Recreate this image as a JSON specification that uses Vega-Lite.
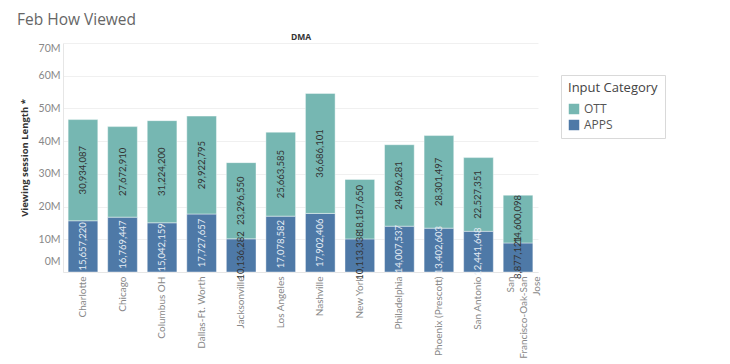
{
  "$schema": "https://vega.github.io/schema/vega-lite/v6.json",
  "autosize": {"type": "none"},
  "width": 475,
  "height": 229,
  "padding": {"left": 63, "top": 43, "right": 192, "bottom": 92},
  "background": "#ffffff",
  "title": {
    "text": "Feb How Viewed",
    "anchor": "start",
    "frame": "group",
    "dx": -46,
    "offset": 4,
    "fontSize": 15.5,
    "fontWeight": "normal",
    "font": "Open Sans",
    "color": "#666666"
  },
  "data": {
    "values": [
      {"DMA": "Charlotte", "category": "APPS", "value": 15657220},
      {"DMA": "Charlotte", "category": "OTT", "value": 30934087},
      {"DMA": "Chicago", "category": "APPS", "value": 16769447},
      {"DMA": "Chicago", "category": "OTT", "value": 27672910},
      {"DMA": "Columbus OH", "category": "APPS", "value": 15042159},
      {"DMA": "Columbus OH", "category": "OTT", "value": 31224200},
      {"DMA": "Dallas-Ft. Worth", "category": "APPS", "value": 17727657},
      {"DMA": "Dallas-Ft. Worth", "category": "OTT", "value": 29922795},
      {"DMA": "Jacksonville", "category": "APPS", "value": 10136282},
      {"DMA": "Jacksonville", "category": "OTT", "value": 23296550},
      {"DMA": "Los Angeles", "category": "APPS", "value": 17078582},
      {"DMA": "Los Angeles", "category": "OTT", "value": 25663585},
      {"DMA": "Nashville", "category": "APPS", "value": 17902406},
      {"DMA": "Nashville", "category": "OTT", "value": 36686101},
      {"DMA": "New York", "category": "APPS", "value": 10113338},
      {"DMA": "New York", "category": "OTT", "value": 18187650},
      {"DMA": "Philadelphia", "category": "APPS", "value": 14007537},
      {"DMA": "Philadelphia", "category": "OTT", "value": 24896281},
      {"DMA": "Phoenix (Prescott)", "category": "APPS", "value": 13402603},
      {"DMA": "Phoenix (Prescott)", "category": "OTT", "value": 28301497},
      {"DMA": "San Antonio", "category": "APPS", "value": 12441648},
      {"DMA": "San Antonio", "category": "OTT", "value": 22527351},
      {"DMA": "San Francisco-Oak-San Jose", "category": "APPS", "value": 8877121},
      {"DMA": "San Francisco-Oak-San Jose", "category": "OTT", "value": 14600098}
    ]
  },
  "transform": [
    {"stack": "value", "groupby": ["DMA"], "sort": [{"field": "category", "order": "ascending"}], "as": ["v0", "v1"]},
    {"calculate": "(datum.v0 + datum.v1) / 2", "as": "mid"}
  ],
  "layer": [
    {
      "mark": {"type": "bar", "stroke": "#ffffff", "strokeWidth": 0.6, "strokeOpacity": 0.7},
      "encoding": {
        "x": {
          "field": "DMA", "type": "nominal", "sort": null,
          "scale": {"paddingInner": 0.25, "paddingOuter": 0.13},
          "axis": {
            "orient": "bottom",
            "title": null,
            "labelAngle": -90,
            "labelExpr": "datum.value == 'San Francisco-Oak-San Jose' ? ['San', 'Francisco-Oak-San', 'Jose'] : datum.value",
            "labelLineHeight": 13,
            "labelBaseline": {"condition": {"test": "datum.value == 'San Francisco-Oak-San Jose'", "value": "line-bottom"}, "value": "middle"}
          }
        },
        "y": {
          "field": "v0", "type": "quantitative",
          "scale": {"domain": [0, 70000000]},
          "axis": {
            "title": "Viewing session Length *",
            "values": [0, 10000000, 20000000, 30000000, 40000000, 50000000, 60000000, 70000000],
            "labelExpr": "(datum.value / 1000000) + 'M'",
            "labelLineHeight": 22,
            "labelBaseline": {"condition": [{"test": "datum.value == 0", "value": "line-bottom"}, {"test": "datum.value == 70000000", "value": "top"}], "value": "middle"}
          }
        },
        "y2": {"field": "v1"},
        "color": {
          "field": "category", "type": "nominal",
          "scale": {"domain": ["OTT", "APPS"], "range": ["#76b7b2", "#4e79a7"]},
          "legend": {"title": "Input Category"}
        }
      }
    },
    {
      "mark": {"type": "text", "angle": 270, "align": "center", "baseline": "middle", "fontSize": 9.5, "font": "Lato"},
      "encoding": {
        "x": {
          "field": "DMA", "type": "nominal", "sort": null,
          "axis": {"orient": "top", "title": "DMA", "labels": false, "ticks": false, "domain": false, "grid": false}
        },
        "y": {
          "field": "mid", "type": "quantitative",
          "axis": {
            "title": "Viewing session Length *",
            "values": [0, 10000000, 20000000, 30000000, 40000000, 50000000, 60000000, 70000000],
            "labelExpr": "(datum.value / 1000000) + 'M'",
            "labelLineHeight": 22,
            "labelBaseline": {"condition": [{"test": "datum.value == 0", "value": "line-bottom"}, {"test": "datum.value == 70000000", "value": "top"}], "value": "middle"}
          }
        },
        "text": {"field": "value", "type": "quantitative", "format": ",d"},
        "color": {
          "condition": {"test": "datum.category == 'APPS' && datum.value > 11000000", "value": "#e4ebf3"},
          "value": "#333333"
        }
      }
    }
  ],
  "resolve": {"axis": {"x": "independent"}},
  "config": {
    "view": {"stroke": null},
    "font": "Lato",
    "axisY": {
      "grid": true,
      "gridColor": "#f0f0f0",
      "ticks": false,
      "domain": true,
      "domainColor": "#e6e6e6",
      "labelColor": "#888888",
      "labelFont": "Lato",
      "labelFontSize": 10.5,
      "labelPadding": 3,
      "titleColor": "#333333",
      "titleFont": "Open Sans",
      "titleFontSize": 9.5,
      "titleFontWeight": "bold",
      "titlePadding": 9
    },
    "axisBottom": {
      "ticks": false,
      "domain": true,
      "domainColor": "#e6e6e6",
      "labelColor": "#888888",
      "labelFont": "Lato",
      "labelFontSize": 10,
      "labelPadding": 4,
      "labelLimit": 200
    },
    "axisTop": {
      "titleFont": "Open Sans",
      "titleFontSize": 8.5,
      "titleFontWeight": "bold",
      "titleColor": "#333333",
      "titlePadding": 2
    },
    "legend": {
      "orient": "none",
      "legendX": 498,
      "legendY": 32,
      "strokeColor": "#d9d9d9",
      "padding": 7,
      "titleFont": "Open Sans",
      "titleFontSize": 13,
      "titleFontWeight": "normal",
      "titleColor": "#444444",
      "titlePadding": 8,
      "labelFont": "Open Sans",
      "labelFontSize": 12,
      "labelColor": "#555555",
      "symbolType": "square",
      "symbolSize": 110,
      "symbolStrokeWidth": 0,
      "rowPadding": 4
    }
  }
}
